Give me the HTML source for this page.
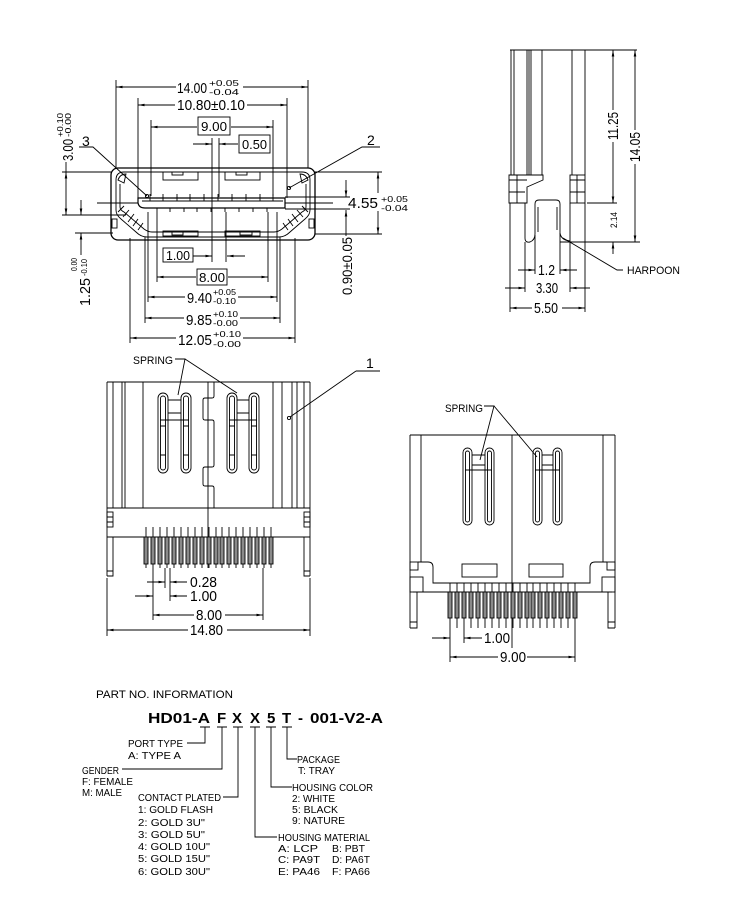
<!DOCTYPE html>
<html><head><meta charset="utf-8"><style>
html,body{margin:0;padding:0;background:#fff;}
svg{display:block;}
text{font-family:"Liberation Sans",sans-serif;fill:#000;stroke:none;}
</style></head><body>
<svg width="750" height="900" viewBox="0 0 750 900" xmlns="http://www.w3.org/2000/svg">
<defs>
<marker id="a" viewBox="0 0 10 4" refX="10" refY="2" markerWidth="7" markerHeight="2.6" markerUnits="userSpaceOnUse" orient="auto"><path d="M0,0L10,2L0,4z" fill="#000"/></marker>
</defs>
<g stroke="#000" stroke-width="0.9" fill="none">
<!-- ============ FRONT VIEW (top-left) ============ -->
<!-- extension lines top -->
<path d="M116,80V168 M308,80V168 M138,98V198 M287,98V198 M151,120V196 M273,120V196 M212,138V262 M219,138V197 M226,212V262"/>
<!-- dims top -->
<path marker-end="url(#a)" d="M176,87H116"/><path marker-end="url(#a)" d="M243,87H308"/>
<path marker-end="url(#a)" d="M175,105H138"/><path marker-end="url(#a)" d="M247,105H287"/>
<path marker-end="url(#a)" d="M197,127H151"/><path marker-end="url(#a)" d="M231,127H273"/>
<path marker-end="url(#a)" d="M193,144H212"/><path marker-end="url(#a)" d="M238,144H219"/>
<rect x="198" y="117" width="32" height="18"/>
<rect x="239" y="135" width="31" height="18"/>
<!-- body -->
<rect x="111" y="168" width="204" height="72" rx="7" stroke-width="1.3"/>
<rect x="112" y="219" width="5" height="9"/><rect x="309" y="219" width="5" height="9"/>
<path d="M116,180 Q116,172 124,172 H302 Q310,172 310,180 V210 Q310,215 305,219 L290,232 Q285,237 279,237 H147 Q141,237 136,232 L121,219 Q116,215 116,210 Z"/>
<path d="M120,184 V207 Q120,210 124,212 L144,229 Q148,232 152,232 H274 Q278,232 282,229 L302,212 Q306,210 306,207 V184"/>
<path d="M118,212 L124,206 M123,217 L129,210 M128,222 L134,214 M133,226 L138,219 M138,230 L143,223 M308,212 L302,206 M303,217 L297,210 M298,222 L292,214 M293,226 L288,219 M288,230 L283,223"/>
<path d="M118,180 Q120,174 126,174 L124,183 Z M308,180 Q306,174 300,174 L302,183 Z"/>
<rect x="163" y="172" width="35" height="8"/><rect x="172" y="172" width="11" height="3"/>
<rect x="225" y="172" width="35" height="8"/><rect x="236" y="172" width="11" height="3"/>
<rect x="163" y="231" width="35" height="5"/><rect x="172" y="232" width="11" height="3"/>
<rect x="225" y="231" width="35" height="5"/><rect x="240" y="232" width="12" height="3"/>
<!-- tongue -->
<path d="M138,198 H285 V208 H145 Q139,208 138,203 Z" stroke-width="1.2"/>
<path d="M142,201 H283"/>
<path d="M150,194V201 M163,194V201 M177,194V201 M190,194V201 M204,194V201 M218,194V201 M232,194V201 M246,194V201 M260,194V201 M273,194V201"/>
<path d="M157,208V212 M170,208V212 M184,208V212 M197,208V212 M211,208V212 M225,208V212 M239,208V212 M253,208V212 M267,208V212"/>
<!-- long horizontal lines -->
<path d="M62,172H111 M315,172H382 M285,197H350 M97,203H138 M285,203H333 M285,209H350 M62,215H126 M75,233H113 M315,234H382"/>
<!-- 3.00 / 1.25 dims -->
<path d="M66,162V172"/><path marker-end="url(#a)" d="M66,190V172"/><path marker-end="url(#a)" d="M66,190V215"/>
<path marker-end="url(#a)" d="M81,200V215"/><path marker-end="url(#a)" d="M81,255V233"/>
<!-- 4.55 / 0.90 dims -->
<path marker-end="url(#a)" d="M378,193V172"/><path marker-end="url(#a)" d="M378,211V234"/>
<path marker-end="url(#a)" d="M346,180V197"/><path marker-end="url(#a)" d="M346,236V210"/>
<!-- leaders 3 and 2 -->
<path d="M79,147H93 L147,196"/><circle cx="147" cy="196" r="1.6"/>
<path d="M380,147H362 L289,188"/><circle cx="289" cy="188" r="1.6"/>
<!-- lower ext lines -->
<path d="M157,212V282 M268,212V282 M148,212V302 M277,212V302 M145,237V323 M280,237V323 M130,238V343 M295,238V343"/>
<rect x="163" y="248" width="30" height="14"/>
<path marker-end="url(#a)" d="M193,256H212"/><path marker-end="url(#a)" d="M245,256H227"/>
<rect x="197" y="269" width="30" height="16"/>
<path marker-end="url(#a)" d="M196,277H157"/><path marker-end="url(#a)" d="M228,277H268"/>
<path marker-end="url(#a)" d="M185,297H148"/><path marker-end="url(#a)" d="M238,297H277"/>
<path marker-end="url(#a)" d="M184,318H145"/><path marker-end="url(#a)" d="M240,318H280"/>
<path marker-end="url(#a)" d="M176,338H130"/><path marker-end="url(#a)" d="M243,338H295"/>

<!-- ============ SIDE VIEW (top-right) ============ -->
<path d="M510,50H637"/>
<path d="M511,50V175 M514,50V175 M527,50V175 M529,50V175 M531,50V175 M542,50V175 M572,50V175 M585,50V175"/>
<path d="M509,175H543V180L527,187V203H509Z"/>
<path d="M509,180H527 M517,175V203 M509,192H525"/>
<rect x="570" y="175" width="15" height="28"/>
<path d="M577,175V203 M570,180H585 M570,192H585"/>
<path d="M525,203V238 Q525,243 530,242 Q535,240 535,234 V204 Q535,200 539,200 H556 Q560,200 560,204 V233 Q561,240 570,241"/>
<path d="M538,207V232 M557,207V230"/>
<path d="M510,203V312 M525,242V292 M535,235V274 M560,233V274 M570,203V292 M585,203V312"/>
<path d="M587,203H617 M560,242H640"/>
<path marker-end="url(#a)" d="M613,110V50"/><path marker-end="url(#a)" d="M613,142V203"/>
<path marker-end="url(#a)" d="M635,130V50"/><path marker-end="url(#a)" d="M635,164V242"/>
<path marker-end="url(#a)" d="M613,254V242"/>
<path d="M563,238 L617,270 H623"/>
<path marker-end="url(#a)" d="M518,270H535"/><path marker-end="url(#a)" d="M577,270H560"/>
<path marker-end="url(#a)" d="M505,288H525"/><path marker-end="url(#a)" d="M590,288H570"/>
<path marker-end="url(#a)" d="M532,308H510"/><path marker-end="url(#a)" d="M562,308H585"/>

<!-- ============ MIDDLE-LEFT VIEW ============ -->
<path d="M107,382H310"/>
<path d="M107,382V576 M113,382V508 M122,382V508 M125,382V508 M143,382V508 M273,382V508 M282,382V508 M292,382V508 M297,382V508 M304,382V508 M310,382V576"/>
<path d="M107,508H310 M107,537H310"/>
<rect x="107" y="512" width="6" height="15"/><path d="M107,517H113 M107,522H113"/>
<rect x="304" y="512" width="6" height="15"/><path d="M304,517H310 M304,522H310"/>
<path d="M113,537V576H107 M107,571H113 M304,537V576H310 M304,571H310"/>
<path d="M208,382V568"/>
<path d="M214,382V396 Q214,398 212,398 H205 Q203,398 203,400 V418 Q203,420 205,420 H212 Q214,420 214,422 V465 Q214,467 212,467 H205 Q203,467 203,469 V484 Q203,486 205,486 H212 Q214,486 214,488 V508"/>
<!-- springs -->
<rect x="158" y="393" width="10" height="80" rx="5"/><rect x="160.5" y="396" width="5" height="74" rx="2.5"/>
<rect x="181" y="393" width="10" height="80" rx="5"/><rect x="183.5" y="396" width="5" height="74" rx="2.5"/>
<path d="M168,400H181 M168,413H181 M160,420H189 M160,426H166 M160,455H166 M183,426H189 M183,455H189"/>
<rect x="227" y="393" width="10" height="80" rx="5"/><rect x="229.5" y="396" width="5" height="74" rx="2.5"/>
<rect x="249" y="393" width="10" height="80" rx="5"/><rect x="251.5" y="396" width="5" height="74" rx="2.5"/>
<path d="M237,400H249 M237,413H249 M229,420H257 M229,426H235 M229,455H235 M251,426H257 M251,455H257"/>
<path d="M175,359H185 L178,395 M185,359 L237,393"/>
<path d="M356,371H380 M356,371 L290,417"/><circle cx="289" cy="418" r="1.6"/>
<!-- pins -->
<g>
<path d="M146,527V568 M153,527V568 M160,527V568 M167,527V568 M174,527V568 M181,527V568 M188,527V568 M195,527V568 M202,527V568 M209,527V568 M216,527V568 M222,527V568 M229,527V568 M236,527V568 M243,527V568 M250,527V568 M257,527V568 M264,527V568 M271,527V568"/>
<g fill="#8a8a8a">
<rect x="144" y="537" width="4" height="27"/><rect x="151" y="537" width="4" height="27"/><rect x="158" y="537" width="4" height="27"/><rect x="165" y="537" width="4" height="27"/><rect x="172" y="537" width="4" height="27"/><rect x="179" y="537" width="4" height="27"/><rect x="186" y="537" width="4" height="27"/><rect x="193" y="537" width="4" height="27"/><rect x="200" y="537" width="4" height="27"/><rect x="207" y="537" width="4" height="27"/><rect x="214" y="537" width="4" height="27"/><rect x="220" y="537" width="4" height="27"/><rect x="227" y="537" width="4" height="27"/><rect x="234" y="537" width="4" height="27"/><rect x="241" y="537" width="4" height="27"/><rect x="248" y="537" width="4" height="27"/><rect x="255" y="537" width="4" height="27"/><rect x="262" y="537" width="4" height="27"/><rect x="269" y="537" width="4" height="27"/>
</g>
</g>
<!-- dims mid-left -->
<path d="M165,568V588 M170,568V601 M153,568V620 M263,568V620 M107,578V636 M310,578V636"/>
<path marker-end="url(#a)" d="M147,582H165"/><path marker-end="url(#a)" d="M187,582H170"/>
<path marker-end="url(#a)" d="M135,596H153"/><path marker-end="url(#a)" d="M187,596H170"/>
<path marker-end="url(#a)" d="M194,615H153"/><path marker-end="url(#a)" d="M225,615H263"/>
<path marker-end="url(#a)" d="M188,630H107"/><path marker-end="url(#a)" d="M227,630H310"/>

<!-- ============ MIDDLE-RIGHT VIEW ============ -->
<path d="M410,435H615"/>
<path d="M410,435V628 M421,435V562 M603,435V562 M615,435V628"/>
<path d="M512,435V648"/>
<rect x="463" y="448" width="9" height="77" rx="4.5"/><rect x="465.5" y="451" width="4" height="71" rx="2"/>
<rect x="485" y="448" width="9" height="77" rx="4.5"/><rect x="487.5" y="451" width="4" height="71" rx="2"/>
<path d="M472,455H485 M472,465H485 M465,470H492"/>
<rect x="533" y="448" width="9" height="77" rx="4.5"/><rect x="535.5" y="451" width="4" height="71" rx="2"/>
<rect x="553" y="448" width="9" height="77" rx="4.5"/><rect x="555.5" y="451" width="4" height="71" rx="2"/>
<path d="M542,455H553 M542,465H553 M535,470H560"/>
<path d="M484,406H494 L480,460 M494,406 L537,457"/>
<path d="M418,562 H428 Q433,562 433,567 V583 H590 V567 Q590,562 595,562 H607"/>
<path d="M413,592H612"/>
<rect x="410" y="562" width="8" height="8"/><rect x="410" y="577" width="13" height="15"/>
<rect x="607" y="562" width="8" height="8"/><rect x="602" y="577" width="13" height="15"/>
<path d="M417,592V628H410 M410,622H417 M608,592V628H615 M608,622H615"/>
<rect x="462" y="564" width="35" height="13"/><rect x="529" y="564" width="34" height="13"/>
<path d="M450,583V628 M457,583V628 M464,583V628 M471,583V628 M478,583V628 M485,583V628 M492,583V628 M499,583V628 M506,583V628 M513,583V628 M520,583V628 M527,583V628 M533,583V628 M540,583V628 M547,583V628 M554,583V628 M561,583V628 M568,583V628 M575,583V628"/>
<g fill="#8a8a8a">
<rect x="448" y="592" width="4" height="26"/><rect x="455" y="592" width="4" height="26"/><rect x="462" y="592" width="4" height="26"/><rect x="469" y="592" width="4" height="26"/><rect x="476" y="592" width="4" height="26"/><rect x="483" y="592" width="4" height="26"/><rect x="490" y="592" width="4" height="26"/><rect x="497" y="592" width="4" height="26"/><rect x="504" y="592" width="4" height="26"/><rect x="511" y="592" width="4" height="26"/><rect x="518" y="592" width="4" height="26"/><rect x="525" y="592" width="4" height="26"/><rect x="531" y="592" width="4" height="26"/><rect x="538" y="592" width="4" height="26"/><rect x="545" y="592" width="4" height="26"/><rect x="552" y="592" width="4" height="26"/><rect x="559" y="592" width="4" height="26"/><rect x="566" y="592" width="4" height="26"/><rect x="573" y="592" width="4" height="26"/>
</g>
<path d="M450,628V662 M575,628V662 M464,628V643"/>
<path marker-end="url(#a)" d="M432,638H450"/><path marker-end="url(#a)" d="M482,638H464"/>
<path marker-end="url(#a)" d="M498,657H450"/><path marker-end="url(#a)" d="M527,657H575"/>

<!-- ============ PART NUMBER LEADERS ============ -->
<path d="M200,727H210 M217,727H227 M233,727H243 M250,727H260 M266,727H276 M282,727H292"/>
<path d="M205,727V743H187 M222,727V769H122 M238,727V797H223 M255,727V837H277 M271,727V787H292 M287,727V759H297"/>
</g>

<!-- ============ TEXT ============ -->
<g font-size="15">
<text x="177" y="93" textLength="30" lengthAdjust="spacingAndGlyphs">14.00</text>
<text x="177" y="110" textLength="68" lengthAdjust="spacingAndGlyphs">10.80±0.10</text>
<text x="201" y="131" font-size="13" textLength="26" lengthAdjust="spacingAndGlyphs">9.00</text>
<text x="242" y="149" font-size="13" textLength="25" lengthAdjust="spacingAndGlyphs">0.50</text>
<text x="82" y="146" font-size="14">3</text>
<text x="367" y="145" font-size="14">2</text>
<text x="348" y="208" textLength="30" lengthAdjust="spacingAndGlyphs">4.55</text>
<text x="166" y="260" font-size="13" textLength="24" lengthAdjust="spacingAndGlyphs">1.00</text>
<text x="199" y="282" font-size="13" textLength="26" lengthAdjust="spacingAndGlyphs">8.00</text>
<text x="187" y="303" textLength="25" lengthAdjust="spacingAndGlyphs">9.40</text>
<text x="186" y="325" textLength="26" lengthAdjust="spacingAndGlyphs">9.85</text>
<text x="178" y="345" textLength="34" lengthAdjust="spacingAndGlyphs">12.05</text>
<text transform="translate(73,161) rotate(-90)" textLength="22" lengthAdjust="spacingAndGlyphs">3.00</text>
<text transform="translate(90,306) rotate(-90)" textLength="28" lengthAdjust="spacingAndGlyphs">1.25</text>
<text transform="translate(352,295) rotate(-90)" font-size="14" textLength="58" lengthAdjust="spacingAndGlyphs">0.90±0.05</text>
<text transform="translate(618,140) rotate(-90)" textLength="28" lengthAdjust="spacingAndGlyphs">11.25</text>
<text transform="translate(640,162) rotate(-90)" textLength="30" lengthAdjust="spacingAndGlyphs">14.05</text>
<text transform="translate(617,228) rotate(-90)" font-size="9" textLength="16" lengthAdjust="spacingAndGlyphs">2.14</text>
<text x="538" y="275" textLength="17" lengthAdjust="spacingAndGlyphs">1.2</text>
<text x="536" y="293" textLength="22" lengthAdjust="spacingAndGlyphs">3.30</text>
<text x="534" y="313" textLength="24" lengthAdjust="spacingAndGlyphs">5.50</text>
<text x="366" y="368" font-size="14">1</text>
<text x="190" y="587" textLength="27" lengthAdjust="spacingAndGlyphs">0.28</text>
<text x="190" y="601" textLength="27" lengthAdjust="spacingAndGlyphs">1.00</text>
<text x="196" y="620" textLength="26" lengthAdjust="spacingAndGlyphs">8.00</text>
<text x="190" y="635" textLength="33" lengthAdjust="spacingAndGlyphs">14.80</text>
<text x="484" y="643" textLength="26" lengthAdjust="spacingAndGlyphs">1.00</text>
<text x="500" y="662" textLength="26" lengthAdjust="spacingAndGlyphs">9.00</text>
</g>
<g font-size="8.5">
<text x="209" y="86" textLength="30" lengthAdjust="spacingAndGlyphs">+0.05</text>
<text x="209" y="95" textLength="30" lengthAdjust="spacingAndGlyphs">-0.04</text>
<text x="381" y="202" textLength="27" lengthAdjust="spacingAndGlyphs">+0.05</text>
<text x="381" y="211" textLength="27" lengthAdjust="spacingAndGlyphs">-0.04</text>
<text x="213" y="295" textLength="23" lengthAdjust="spacingAndGlyphs">+0.05</text>
<text x="213" y="304" textLength="23" lengthAdjust="spacingAndGlyphs">-0.10</text>
<text x="213" y="317" textLength="25" lengthAdjust="spacingAndGlyphs">+0.10</text>
<text x="213" y="326" textLength="25" lengthAdjust="spacingAndGlyphs">-0.00</text>
<text x="213" y="337" textLength="28" lengthAdjust="spacingAndGlyphs">+0.10</text>
<text x="213" y="347" textLength="28" lengthAdjust="spacingAndGlyphs">-0.00</text>
<text transform="translate(63,137) rotate(-90)" textLength="24" lengthAdjust="spacingAndGlyphs">+0.10</text>
<text transform="translate(71,137) rotate(-90)" textLength="24" lengthAdjust="spacingAndGlyphs">-0.00</text>
<text transform="translate(77,271) rotate(-90)" textLength="13" lengthAdjust="spacingAndGlyphs">0.00</text>
<text transform="translate(87,276) rotate(-90)" textLength="17" lengthAdjust="spacingAndGlyphs">-0.10</text>
</g>
<g font-size="11">
<text x="627" y="274" textLength="53" lengthAdjust="spacingAndGlyphs">HARPOON</text>
<text x="133" y="364" textLength="40" lengthAdjust="spacingAndGlyphs">SPRING</text>
<text x="445" y="412" textLength="38" lengthAdjust="spacingAndGlyphs">SPRING</text>
</g>
<!-- part number -->
<text x="96" y="698" font-size="11" textLength="137" lengthAdjust="spacingAndGlyphs">PART NO. INFORMATION</text>
<g font-size="15" font-weight="bold">
<text x="148" y="723" textLength="62" lengthAdjust="spacingAndGlyphs">HD01-A</text>
<text x="217" y="723">F</text>
<text x="232" y="723">X</text>
<text x="250" y="723">X</text>
<text x="267" y="723">5</text>
<text x="282" y="723">T</text>
<text x="298" y="723">-</text>
<text x="310" y="723" textLength="73" lengthAdjust="spacingAndGlyphs">001-V2-A</text>
</g>
<g font-size="10">
<text x="128" y="747" textLength="55" lengthAdjust="spacingAndGlyphs">PORT TYPE</text>
<text x="128" y="759" textLength="53" lengthAdjust="spacingAndGlyphs">A: TYPE A</text>
<text x="82" y="774" textLength="37" lengthAdjust="spacingAndGlyphs">GENDER</text>
<text x="82" y="785" textLength="51" lengthAdjust="spacingAndGlyphs">F: FEMALE</text>
<text x="82" y="796" textLength="40" lengthAdjust="spacingAndGlyphs">M: MALE</text>
<text x="138" y="801" textLength="83" lengthAdjust="spacingAndGlyphs">CONTACT PLATED</text>
<text x="138" y="813" textLength="75" lengthAdjust="spacingAndGlyphs">1: GOLD FLASH</text>
<text x="138" y="826" textLength="67" lengthAdjust="spacingAndGlyphs">2: GOLD 3U"</text>
<text x="138" y="838" textLength="67" lengthAdjust="spacingAndGlyphs">3: GOLD 5U"</text>
<text x="138" y="850" textLength="72" lengthAdjust="spacingAndGlyphs">4: GOLD 10U"</text>
<text x="138" y="862" textLength="72" lengthAdjust="spacingAndGlyphs">5: GOLD 15U"</text>
<text x="138" y="875" textLength="72" lengthAdjust="spacingAndGlyphs">6: GOLD 30U"</text>
<text x="297" y="763" textLength="43" lengthAdjust="spacingAndGlyphs">PACKAGE</text>
<text x="298" y="774" textLength="37" lengthAdjust="spacingAndGlyphs">T: TRAY</text>
<text x="292" y="791" textLength="81" lengthAdjust="spacingAndGlyphs">HOUSING COLOR</text>
<text x="292" y="802" textLength="43" lengthAdjust="spacingAndGlyphs">2: WHITE</text>
<text x="292" y="813" textLength="46" lengthAdjust="spacingAndGlyphs">5: BLACK</text>
<text x="292" y="824" textLength="53" lengthAdjust="spacingAndGlyphs">9: NATURE</text>
<text x="278" y="841" textLength="92" lengthAdjust="spacingAndGlyphs">HOUSING MATERIAL</text>
<text x="278" y="852" textLength="40" lengthAdjust="spacingAndGlyphs">A: LCP</text>
<text x="332" y="852" textLength="33" lengthAdjust="spacingAndGlyphs">B: PBT</text>
<text x="278" y="863" textLength="42" lengthAdjust="spacingAndGlyphs">C: PA9T</text>
<text x="332" y="863" textLength="38" lengthAdjust="spacingAndGlyphs">D: PA6T</text>
<text x="278" y="875" textLength="42" lengthAdjust="spacingAndGlyphs">E: PA46</text>
<text x="332" y="875" textLength="38" lengthAdjust="spacingAndGlyphs">F: PA66</text>
</g>
</svg>
</body></html>
